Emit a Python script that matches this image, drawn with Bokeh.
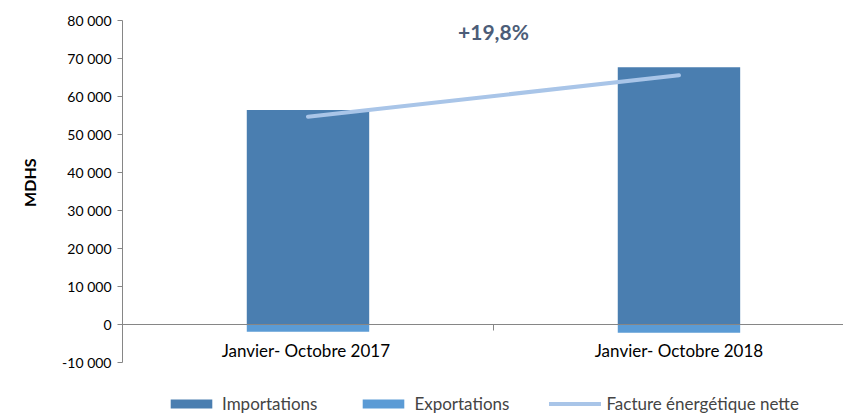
from bokeh.plotting import figure
from bokeh.models import (Range1d, FixedTicker, Legend, LegendItem, Label, Title,
                          ColumnDataSource)
from bokeh.embed import file_html
from bokeh.resources import INLINE

# ---- data ----
categories = ["Janvier- Octobre  2017", "Janvier- Octobre 2018"]
importations = [56500, 67700]
exportations = [-1800, -2100]
facture_nette = [54700, 65600]
growth_label = "+19,8%"
y_title = "MDHS"
y_ticks = [-10000, 0, 10000, 20000, 30000, 40000, 50000, 60000, 70000, 80000]
y_tick_labels = ["-10 000", "0", "10 000", "20 000", "30 000", "40 000",
                 "50 000", "60 000", "70 000", "80 000"]

xs = list(range(len(categories)))
FONT = "Lato"
GRAY = "#868686"

p = figure(width=843, height=414, output_backend="svg", toolbar_location=None,
           x_range=Range1d(-0.5, 1.4435), y_range=Range1d(-23575, 80000),
           min_border_left=120, min_border_right=0, min_border_top=20,
           min_border_bottom=0)
p.outline_line_color = None
p.xgrid.visible = False
p.ygrid.visible = False
p.background_fill_color = "white"
p.border_fill_color = "white"

src = ColumnDataSource(dict(x=xs, imp=importations, exp=exportations,
                            net=facture_nette, zero=[0] * len(xs)))
r_imp = p.vbar(x="x", top="imp", bottom="zero", width=0.33, source=src,
               fill_color="#4A7EB0", line_color=None)
r_exp = p.vbar(x="x", top="zero", bottom="exp", width=0.33, source=src,
               fill_color="#5B9BD5", line_color=None)
r_net = p.line(x="x", y="net", source=src, line_color="#A9C5E8",
               line_width=4, line_cap="round")

# y axis
ya = p.yaxis[0]
ya.ticker = FixedTicker(ticks=y_ticks)
ya.major_label_overrides = {t: l for t, l in zip(y_ticks, y_tick_labels)}
ya.bounds = (-10000, 80000)
ya.axis_line_color = GRAY
ya.major_tick_line_color = GRAY
ya.major_tick_out = 5
ya.major_tick_in = 0
ya.minor_tick_line_color = None
ya.major_label_text_font = FONT
ya.major_label_text_font_size = "14px"
ya.major_label_text_color = "#000000"
ya.major_label_standoff = 6

# y title placed along the axis
p.add_layout(Title(text=y_title, align="right", offset=138, vertical_align="top",
                   standoff=38, text_font=FONT, text_font_style="bold",
                   text_font_size="16px", text_color="#000000"), "left")

# x axis at y = 0
xa = p.xaxis[0]
xa.fixed_location = 0
xa.ticker = FixedTicker(ticks=xs, minor_ticks=[0.5])
xa.major_label_overrides = {i: c for i, c in zip(xs, categories)}
xa.axis_line_color = GRAY
xa.major_tick_line_color = None
xa.minor_tick_line_color = GRAY
xa.minor_tick_out = 6
xa.minor_tick_in = 0
xa.major_label_text_font = FONT
xa.major_label_text_font_size = "17px"
xa.major_label_text_color = "#000000"
xa.major_label_standoff = 9

# growth annotation
p.add_layout(Label(x=0.5, y=77000, text=growth_label, text_align="center",
                   text_baseline="middle", text_font=FONT, text_font_size="21px",
                   text_font_style="bold", text_color="#4C5D78"))

legend = Legend(items=[LegendItem(label="Importations", renderers=[r_imp]),
                       LegendItem(label="Exportations", renderers=[r_exp]),
                       LegendItem(label="Facture énergétique nette", renderers=[r_net])],
                orientation="horizontal", location=(43, 0),
                glyph_width=52, glyph_height=11, label_height=16,
                label_standoff=5, spacing=40, padding=0, margin=0,
                border_line_color=None, background_fill_alpha=0,
                label_text_font=FONT, label_text_font_size="17px",
                label_text_baseline="middle")
p.add_layout(legend, "center")

open("out.html", "w").write(file_html(p, INLINE))
